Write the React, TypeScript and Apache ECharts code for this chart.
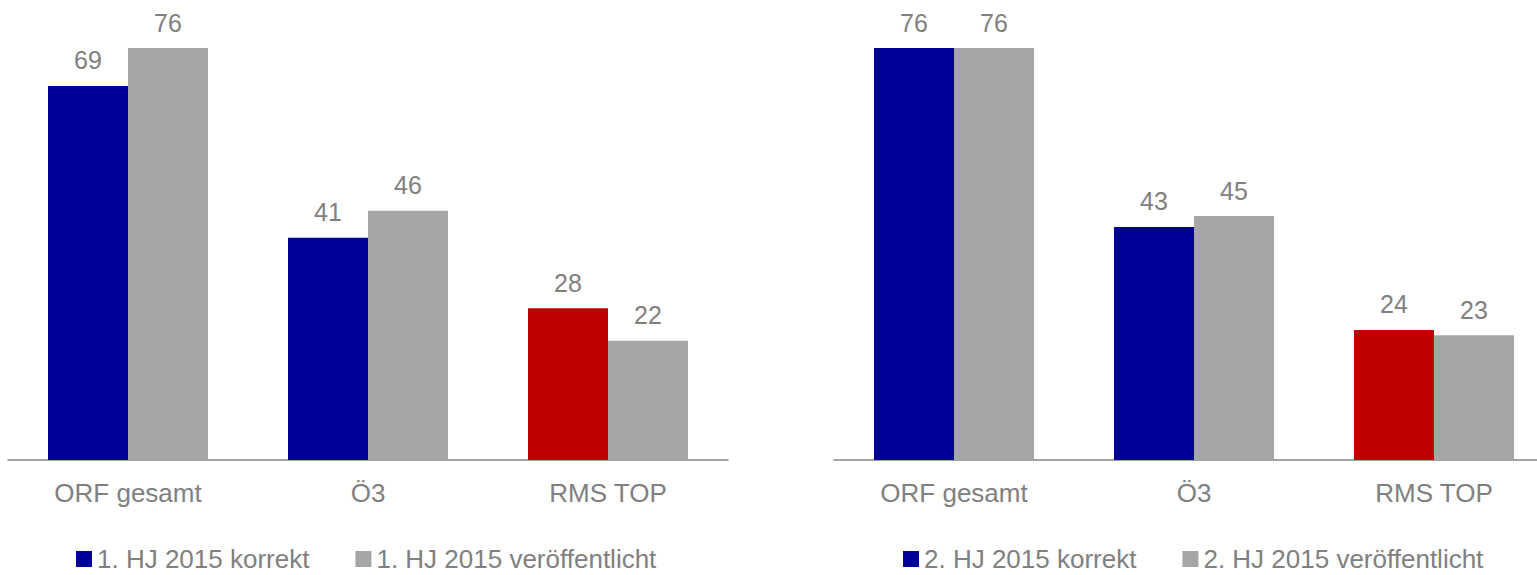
import React, { useEffect, useRef } from "react";
import * as echarts from "echarts";

const categories = ["ORF gesamt", "Ö3", "RMS TOP"];
const seriesNames1 = ["1. HJ 2015 korrekt", "1. HJ 2015 veröffentlicht"];
const seriesNames2 = ["2. HJ 2015 korrekt", "2. HJ 2015 veröffentlicht"];
const h1Korrekt = [69, 41, 28];
const h1Veroeff = [76, 46, 22];
const h2Korrekt = [76, 43, 24];
const h2Veroeff = [76, 45, 23];

const BLUE = "#000099";
const GRAY = "#A6A6A6";
const RED = "#C00000";
const TEXT = "#808080";
const FONT = "'Liberation Sans', Arial, sans-serif";

function korrektData(vals: number[]) {
  return vals.map((v, i) =>
    i === 2 ? { value: v, itemStyle: { color: RED } } : v
  );
}

export default function App() {
  const ref = useRef<HTMLDivElement>(null);
  useEffect(() => {
    if (!ref.current) return;
    const chart = echarts.init(ref.current, undefined, { renderer: "svg" });
    const label = {
      show: true,
      position: "top" as const,
      distance: 13,
      color: TEXT,
      fontSize: 25,
      fontFamily: FONT,
    };
    const xAxisBase = {
      type: "category" as const,
      data: categories,
      axisLine: { show: true, lineStyle: { color: "#868686", width: 1.5 } },
      axisTick: { show: false },
      axisLabel: {
        color: TEXT,
        fontSize: 26,
        fontFamily: FONT,
        margin: 20,
      },
    };
    const yAxisBase = {
      type: "value" as const,
      min: 0,
      max: 76,
      show: false,
      splitLine: { show: false },
    };
    const legendBase = {
      icon: "rect",
      itemWidth: 16,
      itemHeight: 16,
      itemGap: 46,
      top: 546,
      padding: 0,
      textStyle: { color: TEXT, fontSize: 26, lineHeight: 24, fontFamily: FONT },
      selectedMode: false,
    };
    chart.setOption({
      animation: false,
      grid: [
        { left: 8, top: 48, width: 720, height: 412 },
        { left: 834, top: 48, width: 720, height: 412 },
      ],
      xAxis: [
        { ...xAxisBase, gridIndex: 0 },
        { ...xAxisBase, gridIndex: 1 },
      ],
      yAxis: [
        { ...yAxisBase, gridIndex: 0 },
        { ...yAxisBase, gridIndex: 1 },
      ],
      legend: [
        { ...legendBase, left: 76, data: seriesNames1 },
        { ...legendBase, left: 903, data: seriesNames2 },
      ],
      series: [
        {
          name: seriesNames1[0],
          type: "bar",
          xAxisIndex: 0,
          yAxisIndex: 0,
          barWidth: 80,
          barGap: "0%",
          itemStyle: { color: BLUE },
          label,
          data: korrektData(h1Korrekt),
        },
        {
          name: seriesNames1[1],
          type: "bar",
          xAxisIndex: 0,
          yAxisIndex: 0,
          barWidth: 80,
          barGap: "0%",
          itemStyle: { color: GRAY },
          label,
          data: h1Veroeff,
        },
        {
          name: seriesNames2[0],
          type: "bar",
          xAxisIndex: 1,
          yAxisIndex: 1,
          barWidth: 80,
          barGap: "0%",
          itemStyle: { color: BLUE },
          label,
          data: korrektData(h2Korrekt),
        },
        {
          name: seriesNames2[1],
          type: "bar",
          xAxisIndex: 1,
          yAxisIndex: 1,
          barWidth: 80,
          barGap: "0%",
          itemStyle: { color: GRAY },
          label,
          data: h2Veroeff,
        },
      ],
    });
    return () => chart.dispose();
  }, []);
  return (
    <div
      style={{
        position: "fixed",
        left: 0,
        top: 0,
        width: 1537,
        height: 575,
        overflow: "hidden",
        background: "#fff",
      }}
    >
      <div ref={ref} style={{ width: 1560, height: 575 }} />
    </div>
  );
}
